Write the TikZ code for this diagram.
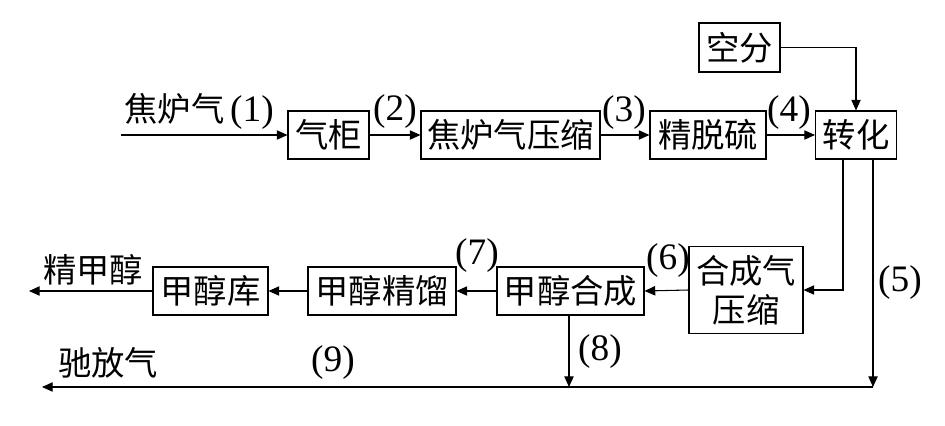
\documentclass[tikz,border=0pt]{standalone}
\usepackage{fontspec}
\setmainfont{Noto Sans CJK SC}
\newfontfamily\numf{Liberation Serif}
\usetikzlibrary{arrows.meta}
\begin{document}
\begin{tikzpicture}[x=0.75pt,y=-0.75pt,
  box/.style={draw, line width=0.8pt, inner sep=0pt, font=\fontsize{25}{29}\selectfont, align=center},
  lbl/.style={inner sep=0pt, font=\fontsize{25}{29}\selectfont},
  num/.style={inner sep=0pt, font=\fontsize{28}{29}\numf},
  flow/.style={line width=0.8pt, -{Triangle[length=8pt,width=7pt]}},
  plain/.style={line width=0.8pt}]
\useasboundingbox (0,0) rectangle (945,425);
% boxes
\node[box, minimum width=81pt*0.75, minimum height=48pt*0.75] (qg) at (328.5,135) {气柜};
\node[box, minimum width=179pt*0.75, minimum height=48pt*0.75] (jys) at (510.5,135) {焦炉气压缩};
\node[box, minimum width=116pt*0.75, minimum height=48pt*0.75] (jtl) at (708,135) {精脱硫};
\node[box, minimum width=81pt*0.75, minimum height=48pt*0.75] (zh) at (856,135) {转化};
\node[box, minimum width=81pt*0.75, minimum height=49pt*0.75] (kf) at (739.5,47.5) {空分};
\node[box, minimum width=114pt*0.75, minimum height=87pt*0.75] (hys) at (746,290) {合成气\\压缩};
\node[box, minimum width=147pt*0.75, minimum height=48pt*0.75] (hc) at (570.5,291) {甲醇合成};
\node[box, minimum width=148pt*0.75, minimum height=48pt*0.75] (jl) at (382,291) {甲醇精馏};
\node[box, minimum width=115pt*0.75, minimum height=48pt*0.75] (ku) at (210.5,291) {甲醇库};
% free ends
\coordinate (in) at (121,135);
\coordinate (outm) at (29,291);
\coordinate (c5) at (873,387);
\coordinate (c8) at (569,387);
\coordinate (outc) at (42,387);
% connectors
\draw[flow] (in) -- (qg.west);
\draw[flow] (qg.east) -- (jys.west);
\draw[flow] (jys.east) -- (jtl.west);
\draw[flow] (jtl.east) -- (zh.west);
\draw[flow] (kf.east) -| (zh.north);
\draw[flow] (zh.south -| 843,0) |- (hys.east);
\draw[flow] (hys.west) -- (hc.east);
\draw[flow] (hc.west) -- (jl.east);
\draw[flow] (jl.west) -- (ku.east);
\draw[flow] (ku.west) -- (outm);
\draw[flow] (zh.south -| c5) -- (c5);
\draw[flow] (hc.south -| c8) -- (c8);
\draw[flow] (c5) -- (outc);
% labels
\node[lbl, anchor=east] at (274,111) {焦炉气\,\numf\fontsize{28}{29}\selectfont(1)};
\node[num] at (395,112) {(2)};
\node[num] at (624,113) {(3)};
\node[num] at (789,113) {(4)};
\node[num] at (900,283) {(5)};
\node[num] at (668,261) {(6)};
\node[num] at (477,256) {(7)};
\node[num] at (600,352) {(8)};
\node[num] at (333,363) {(9)};
\node[lbl] at (93,270) {精甲醇};
\node[lbl] at (108,363) {驰放气};
\end{tikzpicture}
\end{document}
